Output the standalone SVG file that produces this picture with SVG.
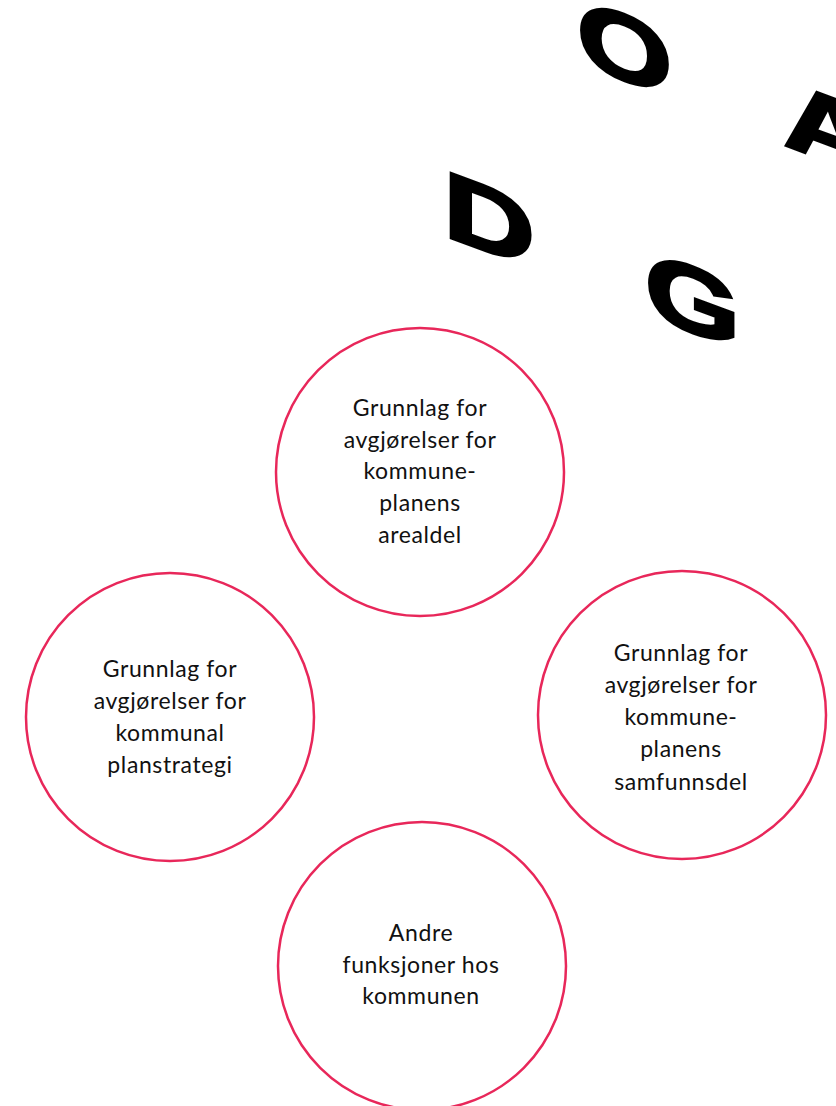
<svg xmlns="http://www.w3.org/2000/svg" width="836" height="1106" viewBox="0 0 836 1106">
  <style>
    .ring { fill: #ffffff; stroke: #E8275A; stroke-width: 2.5; }
    .lbl { font-family: Lato, "Liberation Sans", sans-serif; font-size: 23px; fill: #111111; text-anchor: middle; letter-spacing: 0.6px; }
    .big { font-family: "Liberation Sans", Arial, sans-serif; font-weight: bold; font-size: 94px; fill: #000000; stroke: #000000; stroke-width: 3; text-anchor: middle; }
  </style>
  <rect width="836" height="1106" fill="#ffffff"/>
  <g id="letters">
    <text class="big" x="0" y="34" transform="matrix(1.35,0.5,0,1,489,218)">D</text>
    <text class="big" x="0" y="34" transform="matrix(1.3,0.5,0,1,624.5,46)">O</text>
    <text class="big" x="0" y="34" transform="matrix(1.3,0.48,0,1,828,127)">A</text>
    <text class="big" x="0" y="34" transform="matrix(1.3,0.48,0,1,692.5,298)">G</text>
  </g>
  <g id="connectors"></g>
  <g id="node-top">
    <circle class="ring" cx="420" cy="472" r="144"/>
    <text class="lbl" x="420" y="416">Grunnlag for</text>
    <text class="lbl" x="420" y="448">avgjørelser for</text>
    <text class="lbl" x="420" y="479">kommune-</text>
    <text class="lbl" x="420" y="511">planens</text>
    <text class="lbl" x="420" y="543">arealdel</text>
  </g>
  <g id="node-left">
    <circle class="ring" cx="170" cy="717" r="144"/>
    <text class="lbl" x="170" y="677">Grunnlag for</text>
    <text class="lbl" x="170" y="709">avgjørelser for</text>
    <text class="lbl" x="170" y="741">kommunal</text>
    <text class="lbl" x="170" y="773">planstrategi</text>
  </g>
  <g id="node-right">
    <circle class="ring" cx="682" cy="715" r="144"/>
    <text class="lbl" x="681" y="661">Grunnlag for</text>
    <text class="lbl" x="681" y="693">avgjørelser for</text>
    <text class="lbl" x="681" y="725">kommune-</text>
    <text class="lbl" x="681" y="757">planens</text>
    <text class="lbl" x="681" y="790">samfunnsdel</text>
  </g>
  <g id="node-bottom">
    <circle class="ring" cx="422" cy="966" r="144"/>
    <text class="lbl" x="421" y="941">Andre</text>
    <text class="lbl" x="421" y="973">funksjoner hos</text>
    <text class="lbl" x="421" y="1004">kommunen</text>
  </g>
</svg>
